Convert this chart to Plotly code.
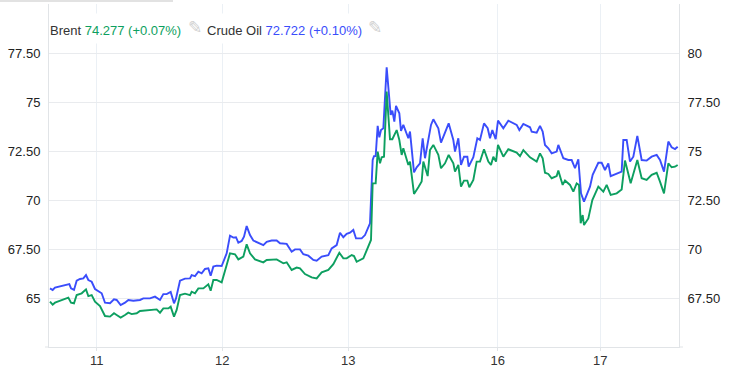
import plotly.graph_objects as go

crude_x = [-140,-132,-125,-112,-100,-90,-82,-77,-68,-60,-50,-40,-32,-25,-15,-5,5,15,25,40,52,60,72,85,95,110,130,140,160,175,190,200,210,222,232,238,250,265,280,285,295,305,315,325,335,342,350,360,375,390,400,410,418,425,435,442,450,460,470,485,500,510,525,540,550,570,585,595,610,620,635,650,660,675,695,705,720,730,740,750,760,770,778,795,805,820,828,832,837,843,848,853,860,870,878,882,887,893,898,908,913,920,935,940,952,960,970,978,985,995,1003,1010,1025,1033,1045,1056,1070,1075,1085,1093,1102,1112,1116,1130,1142,1150,1162,1173,1180,1187,1197,1204,1220,1235,1260,1268,1280,1300,1305,1320,1330,1338,1345,1355,1365,1380,1385,1400,1415,1425,1435,1445,1453,1462,1480,1488,1505,1515,1525,1535,1542,1560,1575,1580,1590,1600,1610,1622,1635,1650,1665,1680,1690,1702,1715,1725,1735,1743]
crude_y = [65.49,65.41,65.53,65.58,65.61,65.66,65.71,65.49,65.41,65.88,65.97,66.00,66.17,65.92,65.83,65.46,65.36,65.24,64.76,64.73,64.93,64.90,64.64,64.76,64.90,64.86,64.90,64.98,64.98,65.07,64.90,65.20,65.20,65.31,64.73,64.98,65.88,65.99,66.00,66.17,66.12,66.34,66.26,66.48,66.51,66.14,66.60,66.65,66.63,67.28,68.18,68.08,68.10,67.82,67.91,68.13,68.67,68.21,67.93,67.82,67.70,67.87,67.93,67.93,67.79,67.76,67.36,67.48,67.48,67.23,67.16,66.94,66.90,67.11,67.19,67.53,67.70,68.33,68.10,68.27,68.33,68.47,68.04,68.04,68.21,68.81,72.04,72.24,72.24,73.78,73.20,73.57,73.66,76.77,74.93,74.34,74.56,74.00,74.80,74.42,73.52,73.83,73.15,73.49,71.41,71.67,71.87,73.15,72.13,73.06,73.83,74.12,73.66,72.93,73.40,73.91,73.06,72.47,73.15,71.79,72.21,72.21,71.70,72.18,73.15,73.06,73.91,73.66,73.15,73.57,73.10,74.05,73.66,74.05,73.83,73.57,73.88,73.71,73.49,73.44,73.78,73.49,72.81,72.64,72.38,72.47,72.81,72.13,72.04,72.04,71.62,72.07,70.34,69.92,70.68,71.28,71.90,71.90,71.53,71.87,71.22,71.33,71.45,73.06,73.06,71.96,72.21,73.27,72.04,72.01,72.21,72.30,72.04,71.45,72.98,72.69,72.60,72.72]

brent_x = [-140,-132,-125,-112,-100,-85,-77,-68,-60,-45,-32,-25,-15,-5,10,25,40,52,60,72,85,95,105,120,130,160,180,190,200,215,222,232,240,250,265,280,285,295,305,320,335,342,350,360,375,390,400,415,425,440,450,460,475,500,510,540,560,570,585,600,610,625,645,660,675,695,710,728,740,750,765,772,780,800,815,823,828,837,843,850,855,862,870,880,887,893,900,908,915,920,935,940,952,965,975,980,993,1000,1010,1025,1033,1045,1056,1070,1075,1085,1093,1102,1112,1118,1130,1140,1150,1162,1175,1183,1190,1198,1204,1220,1235,1260,1270,1280,1300,1320,1330,1338,1345,1355,1365,1380,1385,1398,1405,1420,1430,1440,1447,1452,1458,1462,1475,1487,1505,1520,1530,1542,1560,1575,1585,1602,1622,1635,1650,1665,1680,1690,1702,1715,1725,1735,1743]
brent_y = [67.31,67.16,67.26,67.35,67.40,67.52,67.26,67.23,67.65,67.74,67.94,67.60,67.65,67.31,67.09,66.58,66.55,66.72,66.63,66.50,66.63,66.75,66.68,66.72,66.84,66.89,66.92,66.75,66.97,66.97,67.06,66.55,66.89,67.65,67.72,67.65,67.82,67.74,67.99,67.99,68.20,67.87,68.42,68.42,68.30,69.18,69.78,69.73,69.47,69.61,70.24,69.78,69.47,69.32,69.44,69.47,69.27,69.32,68.93,69.05,69.01,68.72,68.55,68.50,68.81,68.93,69.23,69.81,69.52,69.52,69.69,69.64,69.35,69.52,70.20,70.46,73.35,73.35,74.97,74.37,74.68,74.71,78.03,75.60,75.60,75.82,76.07,75.56,74.80,75.14,74.29,74.46,72.81,73.15,73.44,74.46,73.72,75.05,75.31,74.80,74.12,74.37,74.80,74.37,73.95,74.29,73.18,73.49,73.49,73.15,73.52,74.46,74.46,75.09,74.46,74.29,74.71,74.46,75.31,74.71,75.09,74.92,74.74,75.05,74.68,74.46,74.88,74.63,73.89,73.83,73.61,73.72,74.00,73.27,73.49,73.27,72.93,73.35,73.27,71.31,71.73,71.22,71.56,72.50,73.18,72.93,73.27,72.76,72.84,73.04,74.51,73.35,74.54,73.61,73.52,73.78,73.89,73.44,72.84,74.37,74.17,74.20,74.29]

day_ticks = [0, 377, 755, 1203, 1511]
day_labels = ["11", "12", "13", "16", "17"]
left_ticks = [65, 67.5, 70, 72.5, 75, 77.5]
left_labels = ["65", "67.50", "70", "72.50", "75", "77.50"]
right_ticks = [67.5, 70, 72.5, 75, 77.5, 80]
right_labels = ["67.50", "70", "72.50", "75", "77.50", "80"]

GREEN = "#0d9f60"
BLUE = "#3a4dfb"
GRID = "#e9ebee"
VGRID = "#ebf0f5"
AXIS = "#e1e4e7"
TEXT = "#333333"
FONT = "Liberation Sans"

fig = go.Figure()
fig.add_trace(go.Scatter(x=crude_x, y=crude_y, mode="lines", name="Crude Oil", yaxis="y",
                         line=dict(color=BLUE, width=1.9), hoverinfo="skip"))
fig.add_trace(go.Scatter(x=brent_x, y=brent_y, mode="lines", name="Brent", yaxis="y2",
                         line=dict(color=GREEN, width=1.9), hoverinfo="skip"))

W, H = 730, 391
L, R, T, B = 49, 51, 4, 44
PW, PH = W - L - R, H - T - B

def px(x):
    return (x - L) / PW

def py(y):
    return (H - B - y) / PH

legend = [
    (49, f'Brent <span style="color:{GREEN}">74.277 (+0.07%)</span>'),
    (206, f'Crude Oil <span style="color:{BLUE}">72.722 (+0.10%)</span>'),
]
annotations = [
    dict(xref="paper", yref="paper", x=px(49), y=py(13), xanchor="left", yanchor="top",
         text=" ", width=341, height=29, bgcolor="white", showarrow=False, borderpad=0,
         font=dict(size=1)),
]
for xpos, txt in legend:
    annotations.append(dict(xref="paper", yref="paper", x=px(xpos), y=py(31), xanchor="left",
                            yanchor="middle", text=txt, showarrow=False, borderpad=0,
                            font=dict(family=FONT, size=13, color=TEXT)))
for xpos in (187, 367):
    annotations.append(dict(xref="paper", yref="paper", x=px(xpos), y=py(27), xanchor="left",
                            yanchor="middle", text="\u270e", showarrow=False, borderpad=0,
                            font=dict(family="DejaVu Sans", size=17, color="#cfcfcf")))

shapes = [
    dict(type="line", xref="paper", yref="paper", x0=px(45), x1=px(49), y0=0, y1=0,
         line=dict(color=AXIS, width=1)),
    dict(type="line", xref="paper", yref="paper", x0=px(679), x1=px(683), y0=0, y1=0,
         line=dict(color=AXIS, width=1)),
    dict(type="rect", xref="paper", yref="paper", x0=px(0), x1=px(173), y0=py(0), y1=py(2),
         fillcolor="#e2e2e2", line=dict(width=0), layer="below"),
]

fig.update_layout(
    width=W, height=H, autosize=False,
    margin=dict(l=L, r=R, t=T, b=B, pad=0),
    paper_bgcolor="white", plot_bgcolor="white",
    showlegend=False,
    font=dict(family=FONT, size=13, color=TEXT),
    xaxis=dict(range=[-143, 1747], tickmode="array", tickvals=day_ticks, ticktext=day_labels,
               showgrid=True, gridcolor=VGRID, gridwidth=1, zeroline=False,
               showline=True, linecolor=AXIS, linewidth=1,
               ticks="outside", ticklen=3, tickcolor=AXIS, ticklabelstandoff=-2,
               tickfont=dict(size=13, color=TEXT)),
    yaxis=dict(range=[62.5, 80], tickmode="array", tickvals=left_ticks, ticktext=left_labels,
               showgrid=True, gridcolor=GRID, gridwidth=1, zeroline=False,
               showline=True, linecolor=AXIS, linewidth=1, ticks="",
               ticklabelstandoff=5, tickfont=dict(size=13, color="#222222")),
    yaxis2=dict(range=[65, 82.5], overlaying="y", side="right", anchor="x",
                tickmode="array", tickvals=right_ticks, ticktext=right_labels,
                showgrid=False, zeroline=False,
                showline=True, linecolor=AXIS, linewidth=1, ticks="",
                ticklabelstandoff=5, tickfont=dict(size=13, color="#222222")),
    annotations=annotations,
    shapes=shapes,
)

fig.write_html("out.html", config={"displayModeBar": False},
               post_script="document.body.style.margin='0';document.documentElement.style.overflow='hidden';")
